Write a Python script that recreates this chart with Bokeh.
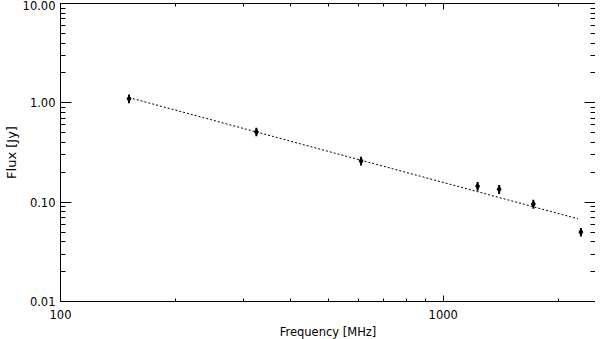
from bokeh.plotting import figure
from bokeh.models import LogAxis, FixedTicker, CustomJSTickFormatter, Range1d, ColumnDataSource
from bokeh.embed import file_html
from bokeh.resources import INLINE

# ---- data ----
freq_mhz = [151, 325, 610, 1230, 1400, 1720, 2290]
flux_jy = [1.10, 0.51, 0.26, 0.145, 0.135, 0.096, 0.050]
flux_err = [0.11, 0.05, 0.026, 0.015, 0.014, 0.010, 0.005]
fit_freq = [151, 2250]
fit_flux = [1.13, 0.068]
x_limits = (100, 2500)
y_limits = (0.01, 10)
x_major = [100, 1000]
x_minor = [200, 300, 400, 500, 600, 700, 800, 900, 2000]
y_major = [0.01, 0.1, 1, 10]
y_minor = [0.02, 0.03, 0.04, 0.05, 0.06, 0.07, 0.08, 0.09,
           0.2, 0.3, 0.4, 0.5, 0.6, 0.7, 0.8, 0.9,
           2, 3, 4, 5, 6, 7, 8, 9]

FONT = "DejaVu Sans"
FS = "11.5px"

src = ColumnDataSource(dict(
    x=freq_mhz, y=flux_jy,
    lo=[f - e for f, e in zip(flux_jy, flux_err)],
    hi=[f + e for f, e in zip(flux_jy, flux_err)],
))

p = figure(frame_width=535, frame_height=298,
           x_axis_type="log", y_axis_type="log",
           x_range=Range1d(*x_limits), y_range=Range1d(*y_limits),
           output_backend="svg", toolbar_location=None,
           min_border_left=54, min_border_right=0, min_border_top=3, min_border_bottom=33)
p.background_fill_color = "white"
p.border_fill_color = "white"
p.outline_line_color = None
p.grid.visible = False

p.line(fit_freq, fit_flux, line_color="black", line_dash="2 2", line_width=1)
p.segment(x0="x", y0="lo", x1="x", y1="hi", source=src, line_color="black", line_width=2)
p.scatter("x", "y", source=src, marker="diamond", size=6, fill_color="black", line_color="black")

xfmt = CustomJSTickFormatter(code="return tick.toFixed(0);")
yfmt = CustomJSTickFormatter(code="return tick.toFixed(2);")
blank = CustomJSTickFormatter(code="return '';")

def style(ax, major_in, minor_in):
    ax.axis_line_color = "black"
    ax.axis_line_width = 1
    ax.major_tick_in = major_in
    ax.major_tick_out = 0
    ax.minor_tick_in = minor_in
    ax.minor_tick_out = 0
    ax.major_tick_line_color = "black"
    ax.minor_tick_line_color = "black"
    ax.major_label_text_font = FONT
    ax.major_label_text_font_size = FS
    ax.major_label_text_color = "black"
    ax.axis_label_text_font = FONT
    ax.axis_label_text_font_size = FS
    ax.axis_label_text_font_style = "normal"
    ax.axis_label_text_color = "black"

xa = p.xaxis[0]
xa.ticker = FixedTicker(ticks=x_major, minor_ticks=x_minor)
xa.formatter = xfmt
xa.axis_label = "Frequency [MHz]"
style(xa, 6, 3)
xa.major_label_standoff = 8
xa.axis_label_standoff = 3

ya = p.yaxis[0]
ya.ticker = FixedTicker(ticks=y_major, minor_ticks=y_minor)
ya.formatter = yfmt
ya.axis_label = "Flux [Jy]"
style(ya, 11, 5)
ya.axis_label_text_font_size = "13px"
ya.major_label_standoff = 5
ya.axis_label_standoff = 1

top = LogAxis(ticker=FixedTicker(ticks=x_major, minor_ticks=x_minor), formatter=blank)
style(top, 6, 3)
top.major_label_standoff = 0
top.major_label_text_font_size = "0px"
p.add_layout(top, "above")

right = LogAxis(ticker=FixedTicker(ticks=y_major, minor_ticks=y_minor), formatter=blank)
style(right, 11, 5)
right.major_label_standoff = 0
right.major_label_text_font_size = "0px"
p.add_layout(right, "right")

open("out.html", "w").write(file_html(p, INLINE))
